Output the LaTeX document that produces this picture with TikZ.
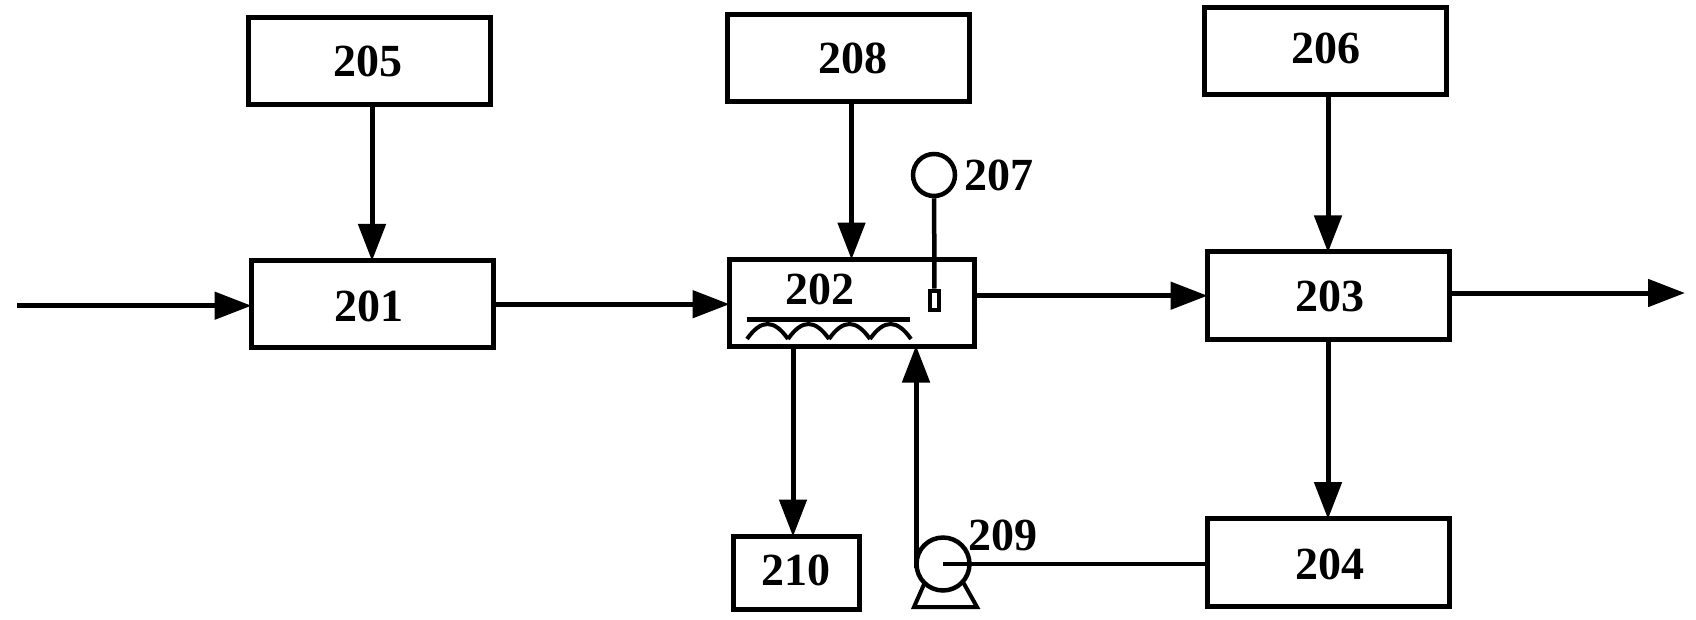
\documentclass[tikz,border=0pt]{standalone}
\usepackage{fontspec}
\setmainfont{Liberation Serif}
\usetikzlibrary{arrows.meta}
\tikzset{
  boxnode/.style={draw,line width=5pt,inner sep=0pt,minimum width=242pt,minimum height=87.5pt,font=\bfseries\fontsize{46}{46}\selectfont},
  tagnode/.style={inner sep=0pt,font=\bfseries\fontsize{46}{46}\selectfont},
  flow/.style={line width=5pt,shorten >=-3pt,-{Triangle[length=37pt,width=27pt]}},
  plain/.style={line width=4.5pt},
}
\begin{document}
\begin{tikzpicture}[x=1pt,y=-1pt]
      \useasboundingbox (0,0) rectangle (1696,619);
      \node[boxnode] (b205) at (369,61) {\hspace*{-2pt}205};
      \node[boxnode] (b201) at (372,304.2) {\hspace*{-6pt}\raisebox{-2pt}[30pt][0pt]{201}};
      \node[boxnode,minimum width=245pt,minimum height=87pt] (b202) at (851.5,302.5) {};
      \node[boxnode] (b208) at (848.5,58) {\hspace*{9pt}208};
      \node[boxnode,minimum width=126pt,minimum height=73pt] (b210) at (796,572.5) {\hspace*{-1pt}\raisebox{4pt}{210}};
      \node[boxnode] (b206) at (1325,51) {\hspace*{2pt}\raisebox{6pt}{206}};
      \node[boxnode] (b203) at (1328,295.7) {\hspace*{4pt}\raisebox{-1pt}[30pt][0pt]{203}};
      \node[boxnode] (b204) at (1328,562.3) {\hspace*{4pt}\raisebox{-2pt}[30pt][0pt]{204}};
      \node[tagnode] (t202) at (820,289) {202};
      \node[tagnode] (t207) at (999,175) {207};
      \node[tagnode] (t209) at (1003,535) {209};
      \node[draw,circle,line width=4.5pt,inner sep=0pt,minimum size=42pt] (bulb) at (934,175) {};
      \node[draw,rectangle,line width=4pt,inner sep=0pt,minimum width=9pt,minimum height=19pt] (probe) at (934.5,300) {};
      \node[draw,circle,line width=4.5pt,inner sep=0pt,minimum size=53pt] (pump) at (943,564) {};
      \coordinate (inlet) at (17,305.7);
      \coordinate (outlet) at (1682,293);
      \coordinate (drain) at (793,348);
      \coordinate (riser) at (916,568);
      \draw[flow] (inlet) -- (inlet -| b201.west);
      \draw[flow] (b201.north |- b205.south) -- (b201.north);
      \draw[flow] (b201.east) -- (b201.east -| b202.west);
      \draw[flow] (b202.north |- b208.south) -- (b202.north);
      \draw[flow] (b203.west -| b202.east) -- (b203.west);
      \draw[flow] (b203.north |- b206.south) -- (b203.north);
      \draw[flow] (outlet -| b203.east) -- (outlet);
      \draw[flow] (b203.south) -- (b203.south |- b204.north);
      \draw[flow] (drain) -- (drain |- b210.north);
      \draw[flow] (riser) -- (riser |- b202.south);
      \draw[plain] (pump.center) -- (pump.center -| b204.west);
      \draw[plain] (bulb) -- (probe);
      \draw[line width=5pt] (747,319) -- (910,319);
      \foreach \a in {747,788,829,870}
        \draw[line width=4pt] (\a,339) .. controls (\a+14,319) and (\a+27,319) .. (\a+41,339);
      \draw[line width=4pt] (925,582) -- (914,607) -- (977,607) -- (963,582);
    \end{tikzpicture}
\end{document}
